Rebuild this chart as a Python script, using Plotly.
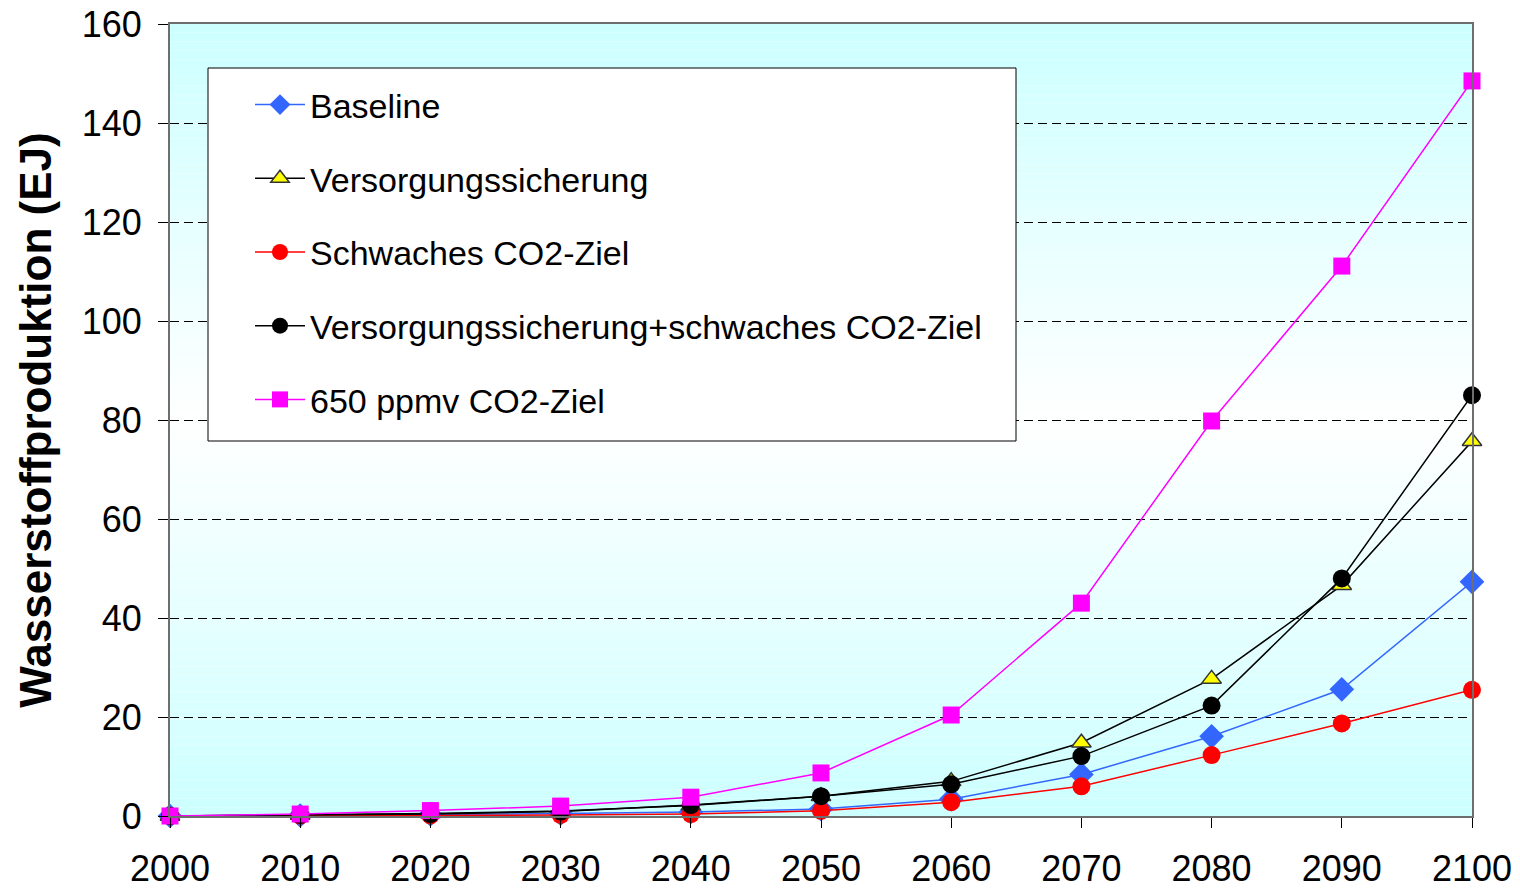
import plotly.graph_objects as go

years = [2000, 2010, 2020, 2030, 2040, 2050, 2060, 2070, 2080, 2090, 2100]
baseline = [0, 0.1, 0.3, 0.5, 0.8, 1.4, 3.4, 8.4, 16.1, 25.6, 47.3]
versorgung = [0, 0.2, 0.5, 1.0, 2.1, 4.0, 7.0, 14.8, 27.7, 46.6, 75.7]
schwach = [0, 0.05, 0.1, 0.2, 0.4, 1.05, 2.8, 6.0, 12.3, 18.7, 25.5]
vers_schwach = [0, 0.2, 0.4, 0.9, 2.2, 4.0, 6.4, 12.1, 22.3, 48.0, 85.0]
ppmv650 = [0, 0.4, 1.1, 2.0, 3.8, 8.7, 20.4, 43.0, 79.8, 111.1, 148.5]

names = ["Baseline", "Versorgungssicherung", "Schwaches CO2-Ziel",
         "Versorgungssicherung+schwaches CO2-Ziel", "650 ppmv CO2-Ziel"]
y_ticks = [0, 20, 40, 60, 80, 100, 120, 140, 160]

FONT = "Arial, 'Liberation Sans', sans-serif"

fig = go.Figure()

styles = [
    (baseline, dict(color="#3366FF", width=1.5), dict(symbol="diamond", size=19, color="#3366FF")),
    (versorgung, dict(color="black", width=1.5), dict(symbol="triangle-up", size=17, color="#FFFF00",
                                                       line=dict(color="#333333", width=1.5))),
    (schwach, dict(color="#FF0000", width=1.5), dict(symbol="circle", size=18, color="#FF0000")),
    (vers_schwach, dict(color="black", width=1.5), dict(symbol="circle", size=18, color="black")),
    (ppmv650, dict(color="#FF00FF", width=1.5), dict(symbol="square", size=17, color="#FF00FF")),
]

for i, (vals, ln, mk) in enumerate(styles):
    fig.add_trace(go.Scatter(
        x=years, y=vals, name=names[i], mode="lines+markers",
        line=ln, marker=mk, cliponaxis=False, legendgroup=f"g{i}",
    ))

# background gradient bands (cyan -> white -> cyan)
shapes = []
N = 90
for k in range(N):
    f = (k + 0.5) / N
    w = 1 - abs(2 * f - 1)
    r = int(round(204 + 51 * w))
    shapes.append(dict(type="rect", xref="x domain", yref="y domain",
                       x0=0, x1=1, y0=k / N, y1=(k + 1) / N,
                       fillcolor=f"rgb({r},255,255)", line=dict(width=0), layer="below"))
# legend box
shapes.append(dict(type="rect", xref="x domain", yref="y domain",
                   x0=(208 - 170) / 1302, x1=(1016 - 170) / 1302,
                   y0=(816 - 441) / 792, y1=(816 - 68) / 792,
                   fillcolor="white", line=dict(color="black", width=1), layer="above"))

fig.update_layout(
    width=1520, height=888, autosize=False,
    margin=dict(l=170, r=48, t=24, b=72, autoexpand=False),
    paper_bgcolor="white", plot_bgcolor="rgba(0,0,0,0)",
    font=dict(family=FONT, color="black"),
    shapes=shapes,
    showlegend=True,
    legend=dict(x=(250 - 170) / 1302, y=(816 - 76) / 792, xanchor="left", yanchor="top",
                bgcolor="rgba(0,0,0,0)", borderwidth=0, itemwidth=50,
                traceorder="grouped", tracegroupgap=26.5,
                font=dict(size=34, family=FONT, color="black")),
    xaxis=dict(range=[2000, 2100], tickmode="array", tickvals=years,
               ticks="outside", ticklen=10, tickcolor="black", tickwidth=1,
               tickfont=dict(size=36, family=FONT), ticklabelstandoff=10,
               showgrid=False, zeroline=False, automargin=False,
               showline=True, linecolor="#6e6e6e", linewidth=2, mirror=True),
    yaxis=dict(range=[0, 160], tickmode="array", tickvals=y_ticks,
               ticks="outside", ticklen=10, tickcolor="black", tickwidth=1,
               tickfont=dict(size=36, family=FONT), ticklabelstandoff=9,
               showgrid=True, gridcolor="black", gridwidth=1, griddash="9px,5px",
               zeroline=False, showline=True, linecolor="#6e6e6e", linewidth=2, mirror=True,
               automargin=False,
               title=dict(text="<b>Wasserstoffproduktion (EJ)</b>", standoff=16,
                          font=dict(size=44, family=FONT))),
)

fig.write_html("out.html", config={"displayModeBar": False},
               post_script="document.body.style.margin='0';")
